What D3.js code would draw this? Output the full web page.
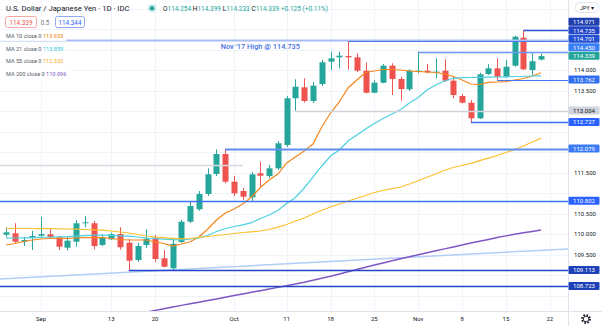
<!DOCTYPE html>
<html><head><meta charset="utf-8">
<script src="https://cdn.jsdelivr.net/npm/d3@7"></script>
<style>html,body{margin:0;padding:0;background:#fff;overflow:hidden}svg{display:block;font-family:Roboto,"Noto Sans",sans-serif}</style>
</head><body><svg id="c" width="602" height="326"></svg>
<script>
// ---------- DATA ----------
const tickIndex  = [4, 12, 17, 26, 32, 37, 42, 47, 52, 57, 62];
const tickLabels = ["Sep","13","20","Oct","11","18","25","Nov","8","15","22"];
const yTickValues = [108.5,109.0,109.5,110.0,110.5,111.0,111.5,112.0,112.5,113.0,113.5,114.0,114.5,115.0];

const open  = [109.983,110.017,109.812,109.902,109.959,109.993,109.920,109.666,109.812,110.268,110.261,109.732,109.871,110.000,109.788,109.366,109.732,109.910,109.407,109.163,109.805,110.300,110.602,110.976,111.463,111.951,111.276,111.049,110.895,111.480,111.415,111.602,112.171,113.310,113.578,113.244,113.658,114.202,114.310,114.341,114.310,113.983,113.446,113.690,114.105,113.780,113.529,113.959,113.983,113.934,113.983,113.739,113.366,113.202,112.822,113.902,114.041,113.836,114.105,114.787,114.000,114.254];
const high  = [110.164,110.261,109.934,110.080,110.422,110.115,109.939,109.920,110.342,110.439,110.317,109.993,110.032,110.164,109.878,109.781,110.115,109.976,109.610,109.885,110.342,110.805,111.049,111.602,112.066,112.079,111.415,111.122,111.512,111.768,111.683,112.268,113.366,113.773,113.798,113.707,114.244,114.446,114.446,114.701,114.407,114.178,113.756,114.146,114.163,113.836,114.017,114.450,114.146,114.285,114.261,113.836,113.415,113.268,113.934,114.139,114.285,114.244,114.836,114.971,114.431,114.399];
const low   = [109.934,109.781,109.707,109.610,109.934,109.902,109.610,109.593,109.690,110.164,109.627,109.707,109.854,109.617,109.113,109.324,109.659,109.317,109.187,109.122,109.781,110.268,110.568,110.927,111.415,111.237,110.927,110.829,110.805,111.154,111.366,111.561,112.122,113.004,113.207,113.195,113.610,114.000,114.041,114.017,113.951,113.431,113.431,113.675,113.390,113.251,113.488,113.920,113.920,113.798,113.707,113.310,113.183,112.727,112.805,113.878,113.762,113.805,114.080,114.000,113.878,114.233];
const close = [110.041,109.812,109.854,109.951,110.000,109.920,109.690,109.837,110.261,110.285,109.707,109.910,109.993,109.676,109.349,109.707,109.885,109.390,109.202,109.761,110.300,110.683,110.976,111.456,111.951,111.276,110.992,110.910,111.456,111.422,111.602,112.212,113.310,113.593,113.244,113.617,114.188,114.285,114.349,114.310,113.983,113.446,113.690,114.105,113.780,113.536,113.983,113.983,113.944,113.959,113.739,113.390,113.202,112.822,113.895,114.041,113.836,114.080,114.812,114.017,114.214,114.339];

const ma10  = [109.732,109.768,109.817,109.854,109.878,109.890,109.895,109.895,109.902,109.910,109.910,109.910,109.890,109.866,109.854,109.854,109.854,109.805,109.768,109.707,109.756,109.812,109.927,110.122,110.341,110.512,110.610,110.732,110.902,111.134,111.317,111.463,111.732,111.878,112.024,112.195,112.610,112.951,113.220,113.561,113.756,113.939,113.976,114.012,114.012,114.000,113.976,113.963,113.951,113.939,113.902,113.841,113.756,113.659,113.646,113.700,113.707,113.715,113.756,113.793,113.854,113.933];
const ma21  = [109.898,109.902,109.907,109.910,109.917,109.927,109.932,109.937,109.946,109.959,109.971,109.976,109.968,109.956,109.946,109.927,109.902,109.885,109.873,109.861,109.854,109.878,109.907,109.963,110.061,110.134,110.183,110.224,110.276,110.378,110.463,110.573,110.744,110.890,111.122,111.390,111.659,111.902,112.049,112.268,112.415,112.561,112.695,112.817,112.927,113.037,113.195,113.329,113.512,113.634,113.732,113.798,113.812,113.817,113.822,113.824,113.829,113.834,113.841,113.841,113.854,113.859];
const ma55  = [110.134,110.134,110.134,110.134,110.132,110.129,110.127,110.122,110.117,110.110,110.102,110.093,110.073,110.049,110.024,109.988,109.951,109.927,109.910,109.895,109.883,109.890,109.915,109.939,109.963,109.988,110.012,110.037,110.054,110.073,110.110,110.166,110.232,110.317,110.390,110.488,110.578,110.659,110.732,110.805,110.871,110.939,111.012,111.061,111.105,111.146,111.220,111.300,111.383,111.463,111.554,111.622,111.671,111.724,111.788,111.849,111.915,111.988,112.061,112.146,112.244,112.333];
const ma200Start = 16;
const ma200 = [108.093,108.137,108.178,108.220,108.259,108.298,108.337,108.378,108.417,108.459,108.498,108.537,108.578,108.617,108.659,108.698,108.739,108.778,108.822,108.871,108.920,108.971,109.024,109.080,109.134,109.190,109.244,109.295,109.346,109.395,109.444,109.493,109.541,109.590,109.637,109.685,109.732,109.780,109.824,109.868,109.912,109.954,109.993,110.029,110.063,110.096];

const trendIdx = [0, 61];
const trendVal = [108.910, 109.602];

const levelValues = [114.971, 114.735, 114.701, 114.450, 113.762, 113.004, 112.727, 112.079, 111.671, 110.802, 109.113, 108.723];
const levelStart  = [59, null, 39, 47, 56, 33, 53, 25, null, null, 14, null];
const levelEnd    = [null, null, null, null, null, null, null, null, 27, null, null, null];
const levelHasLabel = [true,true,true,true,true,true,true,true,false,true,true,true];
const noteText = "Nov '17 High @ 114.735";
const noteIndex = 29;

const title = "U.S. Dollar / Japanese Yen · 1D · IDC";
const ohlcLetters = ["O","H","L","C"];
const ohlcValues  = ["114.254","114.399","114.233","114.339"];
const changeText  = "+0.125 (+0.11%)";
const bidAsk = ["114.339","0.5","114.344"];
const maNames  = ["MA 10 close 0","MA 21 close 0","MA 55 close 0","MA 200 close 0"];
const maLast   = ["113.933","113.859","112.333","110.096"];

// ---------- STYLES ----------
const UP="#26a69a", DOWN="#ef5350";
const maColors = ["#f7861b","#4dd0e1","#fbc02d","#7e57c2"];
const maTextColors = ["#f57c00","#26c6da","#f5a623","#7e57c2"];
const levelStyle = [
  {c:"#3051d8",w:1.5,box:"#1f3fae",t:"#fff"},
  {c:"#a9bdf5",w:2,box:"#2346c6",t:"#fff"},
  {c:"#4f76ea",w:1,box:"#2451d2",t:"#fff"},
  {c:"#6a95f5",w:1.5,box:"#3a80f5",t:"#fff"},
  {c:"#4079f0",w:1,box:"#2f6ff0",t:"#fff"},
  {c:"#d1d4dc",w:1.5,box:"#d1d4dc",t:"#131722"},
  {c:"#3a70ec",w:1.5,box:"#2962ff",t:"#fff"},
  {c:"#5d8ef2",w:2,box:"#3b7cf6",t:"#fff"},
  {c:"#d8dae0",w:1.5,box:null,t:null},
  {c:"#3d74ee",w:1.5,box:"#2962ff",t:"#fff"},
  {c:"#2445c8",w:1.5,box:"#1d40b8",t:"#fff"},
  {c:"#2445c8",w:1.5,box:"#1d40b8",t:"#fff"}
];

// ---------- LAYOUT ----------
const plotR = 568, plotB = 311;
const svg = d3.select("#c");
const x = d3.scaleLinear().domain([0, 61]).range([6, 541]);
const y = d3.scaleLinear().domain([110, 114]).range([234, 70]);

svg.append("defs").append("clipPath").attr("id","clip")
  .append("rect").attr("x",0).attr("y",0).attr("width",plotR).attr("height",plotB);

// grid
const grid = svg.append("g").attr("stroke","#f0f3fa").attr("stroke-width",1);
grid.selectAll("line.v").data(tickIndex).join("line")
  .attr("x1",d=>Math.round(x(d))+0.5).attr("x2",d=>Math.round(x(d))+0.5).attr("y1",0).attr("y2",plotB);
grid.selectAll("line.h").data(yTickValues.concat([115.5])).join("line").attr("class","h")
  .attr("x1",0).attr("x2",plotR).attr("y1",d=>Math.round(y(d))+0.5).attr("y2",d=>Math.round(y(d))+0.5);

svg.append("line").attr("x1",plotR+0.5).attr("x2",plotR+0.5).attr("y1",0).attr("y2",326).attr("stroke","#e0e3eb");
svg.append("line").attr("x1",0).attr("x2",602).attr("y1",plotB+0.5).attr("y2",plotB+0.5).attr("stroke","#e0e3eb");

const plot = svg.append("g").attr("clip-path","url(#clip)");

// trend line (extended across the plot)
const slope = (trendVal[1]-trendVal[0])/(trendIdx[1]-trendIdx[0]);
const i0 = x.invert(0), i1 = x.invert(plotR);
plot.append("line")
  .attr("x1",0).attr("x2",plotR)
  .attr("y1",y(trendVal[0]+slope*(i0-trendIdx[0])))
  .attr("y2",y(trendVal[0]+slope*(i1-trendIdx[0])))
  .attr("stroke","#b3cdf7").attr("stroke-width",1.5);

// candles
const idx = d3.range(open.length);
const bw = 6;
const cg = plot.append("g");
cg.selectAll("line").data(idx).join("line")
  .attr("x1",i=>Math.round(x(i))+0.5).attr("x2",i=>Math.round(x(i))+0.5)
  .attr("y1",i=>y(high[i])).attr("y2",i=>y(low[i]))
  .attr("stroke",i=>close[i]>=open[i]?UP:DOWN).attr("stroke-width",1);
cg.selectAll("rect").data(idx).join("rect")
  .attr("x",i=>Math.round(x(i))+0.5-bw/2).attr("width",bw)
  .attr("y",i=>y(Math.max(open[i],close[i])))
  .attr("height",i=>Math.max(1,Math.abs(y(open[i])-y(close[i]))))
  .attr("fill",i=>close[i]>=open[i]?UP:DOWN);

// moving averages
const line = d3.line().defined(d=>d[1]!=null).x(d=>x(d[0])).y(d=>y(d[1]));
[ma10, ma21, ma55].forEach((arr,k)=>{
  plot.append("path").attr("d",line(arr.map((v,i)=>[i,v])))
    .attr("fill","none").attr("stroke",maColors[k]).attr("stroke-width",1.2);
});
plot.append("path").attr("d",line(ma200.map((v,i)=>[i+ma200Start,v])))
  .attr("fill","none").attr("stroke",maColors[3]).attr("stroke-width",1.5);

// horizontal levels
const lg = plot.append("g");
levelValues.forEach((v,k)=>{
  const st = levelStyle[k];
  const yy = Math.round(y(v))+0.5;
  lg.append("line")
    .attr("x1", levelStart[k]==null?0:x(levelStart[k]))
    .attr("x2", levelEnd[k]==null?plotR:x(levelEnd[k]))
    .attr("y1",yy).attr("y2",yy)
    .attr("stroke",st.c).attr("stroke-width",st.w);
});
plot.append("text").attr("x",x(noteIndex)).attr("y",y(levelValues[1])+9.5)
  .attr("text-anchor","middle").attr("font-size",7.4).attr("font-weight",500)
  .attr("fill","#4670e2").text(noteText);

// price label boxes with collision avoidance
const labels = [];
levelValues.forEach((v,k)=>{ if(levelHasLabel[k]) labels.push({v, box:levelStyle[k].box, t:levelStyle[k].t}); });
labels.push({v: close[close.length-1], box: UP, t:"#fff"});
labels.sort((a,b)=>a.v-b.v);
const bh = 8.5;
let prev = Infinity;
labels.forEach(l=>{ l.y = Math.min(y(l.v), prev-bh); prev = l.y; });

// y axis tick labels (skip those hidden under a price box)
const visibleTicks = yTickValues.filter(v=>labels.every(l=>Math.abs(y(v)-l.y) > bh+1));
svg.append("g").selectAll("text").data(visibleTicks).join("text")
  .attr("x",585).attr("y",d=>y(d)+2.2).attr("text-anchor","middle")
  .attr("font-size",6).attr("fill","#131722").text(d=>d.toFixed(3));

const bg = svg.append("g");
labels.forEach(l=>{
  bg.append("rect").attr("x",568.5).attr("y",l.y-bh/2).attr("width",31).attr("height",bh-0.5)
    .attr("rx",1).attr("fill",l.box);
  bg.append("text").attr("x",584).attr("y",l.y+2.1).attr("text-anchor","middle")
    .attr("font-size",6).attr("fill",l.t).text(l.v.toFixed(3));
});

// JPY button
svg.append("rect").attr("x",575.5).attr("y",2.5).attr("width",23).attr("height",10).attr("rx",4)
  .attr("fill","#fff").attr("stroke","#e0e3eb");
svg.append("text").attr("x",587).attr("y",9.8).attr("text-anchor","middle").attr("font-size",5.5)
  .attr("fill","#131722").text("JPY ▾");

// x axis labels
svg.append("g").selectAll("text").data(tickIndex).join("text")
  .attr("x",i=>x(i)).attr("y",321).attr("text-anchor","middle")
  .attr("font-size",6).attr("fill","#131722").text((d,i)=>tickLabels[i]);

// gear icon
const gear = svg.append("g").attr("transform","translate(586,319)");
gear.append("circle").attr("r",4).attr("fill","none").attr("stroke","#131722").attr("stroke-width",1.8).attr("stroke-dasharray","1.6 1.54");
gear.append("circle").attr("r",2.8).attr("fill","none").attr("stroke","#131722").attr("stroke-width",0.9);

// legend
const leg = svg.append("g");
leg.append("text").attr("x",6).attr("y",11).attr("font-size",7.7).attr("fill","#131722").text(title);
leg.append("circle").attr("cx",152).attr("cy",8.3).attr("r",4.3).attr("fill","#26a69a").attr("fill-opacity",0.2);
leg.append("circle").attr("cx",152).attr("cy",8.3).attr("r",2.3).attr("fill","#26a69a");
const ot = leg.append("text").attr("x",163).attr("y",11).attr("font-size",6.5);
ohlcLetters.forEach((L,k)=>{
  ot.append("tspan").attr("fill","#131722").text((k?" ":"")+L);
  ot.append("tspan").attr("fill",UP).text(ohlcValues[k]);
});
ot.append("tspan").attr("fill",UP).text(" "+changeText);

leg.append("rect").attr("x",5.5).attr("y",16.5).attr("width",31).attr("height",11).attr("rx",2)
  .attr("fill","#fff").attr("stroke","#f4a7a6");
leg.append("text").attr("x",21).attr("y",24.6).attr("text-anchor","middle").attr("font-size",6.3).attr("fill",DOWN).text(bidAsk[0]);
leg.append("text").attr("x",45).attr("y",24.6).attr("text-anchor","middle").attr("font-size",6.3).attr("fill","#787b86").text(bidAsk[1]);
leg.append("rect").attr("x",55.5).attr("y",16.5).attr("width",29).attr("height",11).attr("rx",2)
  .attr("fill","#fff").attr("stroke","#8fa9f5");
leg.append("text").attr("x",70).attr("y",24.6).attr("text-anchor","middle").attr("font-size",6.3).attr("fill","#2962ff").text(bidAsk[2]);

maNames.forEach((n,k)=>{
  const by = 38.2 + k*12.6;
  const g = leg.append("g");
  const r = g.append("rect").attr("fill","#fff");
  const t = g.append("text").attr("x",6).attr("y",by).attr("font-size",5.6);
  t.append("tspan").attr("fill","#555a66").text(n+" ");
  t.append("tspan").attr("fill",maTextColors[k]).text(maLast[k]);
  const bb = t.node().getBBox();
  r.attr("x",0).attr("y",by-7.3).attr("width",bb.x+bb.width+3).attr("height",10);
});
</script></body></html>
